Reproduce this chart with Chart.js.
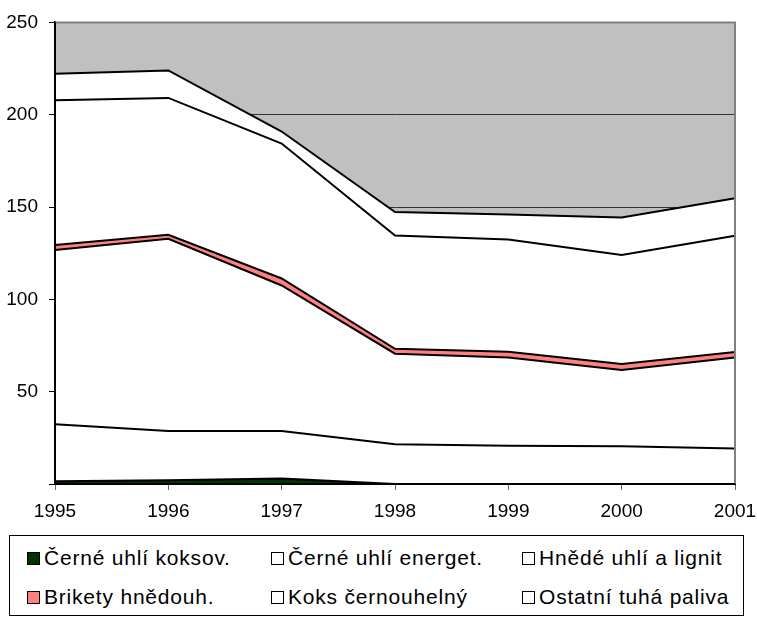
<!DOCTYPE html>
<html>
<head>
<meta charset="utf-8">
<script src="https://cdn.jsdelivr.net/npm/chart.js@4.4.0/dist/chart.umd.min.js"></script>
<style>
  body { margin: 0; background: #fff; font-family: "Liberation Sans", Arial, sans-serif; }
  #wrap { position: absolute; left: 0; top: 0; width: 757px; height: 530px; }
  #legend { position: absolute; left: 9px; top: 535px; width: 735px; height: 81px; border: 1px solid #000; box-sizing: border-box; }
  .item { position: absolute; height: 24px; line-height: 24px; font-size: 21px; color: #000; white-space: nowrap; letter-spacing: 0.8px; }
  .item i { position: absolute; left: 0; top: 6px; width: 13px; height: 13px; border: 1px solid #000; box-sizing: border-box; }
  .item span { position: absolute; left: 17px; top: 0; }
</style>
</head>
<body>
<div id="wrap"><canvas id="chart1"></canvas></div>
<div id="legend"></div>
<script>
  var years = ['1995', '1996', '1997', '1998', '1999', '2000', '2001'];

  var cerneKoksov = [1.5, 2, 3, 0, 0, 0, 0];
  var cerneEnerget = [30.9, 26.7, 25.7, 21.5, 20.7, 20.5, 19.2];
  var hnedeLignit = [94.3, 104.1, 78.8, 49.1, 47.8, 41.3, 49.3];
  var briketyHnedouh = [2.8, 2.2, 3.8, 2.6, 3.1, 3.2, 3.0];
  var koksCernouhelny = [78.4, 74.1, 73.1, 61.4, 60.8, 59, 62.9];
  var ostatniPaliva = [14.3, 14.9, 6.5, 12.7, 13.5, 20.3, 20.4];

  var seriesNames = ['Černé uhlí koksov.', 'Černé uhlí energet.', 'Hnědé uhlí a lignit',
    'Brikety hnědouh.', 'Koks černouhelný', 'Ostatní tuhá paliva'];
  var seriesData = [cerneKoksov, cerneEnerget, hnedeLignit, briketyHnedouh, koksCernouhelny, ostatniPaliva];
  var seriesColors = ['#003300', '#ffffff', '#ffffff', '#ff8080', '#ffffff', '#ffffff'];

  var datasets = seriesData.map(function (d, i) {
    return {
      label: seriesNames[i],
      data: d,
      backgroundColor: seriesColors[i],
      borderColor: '#000',
      borderWidth: 2,
      pointRadius: 0,
      tension: 0,
      fill: i === 0 ? 'origin' : '-1'
    };
  });

  // grey plot area, grey top/right frame, black axes on top
  var plotArea = {
    id: 'plotArea',
    beforeDraw: function (chart) {
      var a = chart.chartArea, c = chart.ctx;
      c.save();
      c.fillStyle = '#c0c0c0';
      c.fillRect(a.left, a.top, a.right - a.left, a.bottom - a.top);
      c.restore();
    },
    afterDatasetsDraw: function (chart) {
      var a = chart.chartArea, c = chart.ctx;
      c.save();
      c.lineWidth = 2;
      c.strokeStyle = '#808080';
      c.beginPath();
      c.moveTo(a.left, a.top);
      c.lineTo(a.right, a.top);
      c.lineTo(a.right, a.bottom);
      c.stroke();
      c.strokeStyle = '#000';
      c.beginPath();
      c.moveTo(a.left, a.top);
      c.lineTo(a.left, a.bottom);
      c.lineTo(a.right, a.bottom);
      c.stroke();
      c.restore();
    }
  };

  var ctx1 = document.getElementById('chart1').getContext('2d');
  var chart1 = new Chart(ctx1, {
    type: 'line',
    data: { labels: years, datasets: datasets },
    plugins: [plotArea],
    options: {
      responsive: true,
      maintainAspectRatio: false,
      animation: false,
      layout: { padding: { top: 19, right: 22, bottom: 0, left: 0 } },
      plugins: {
        legend: { display: false },
        tooltip: { enabled: false }
      },
      scales: {
        x: {
          offset: false,
          afterFit: function (s) { s.height = 46; s.paddingLeft = 0; s.paddingRight = 0; },
          grid: { drawOnChartArea: false, tickLength: 6, tickColor: '#666' },
          border: { color: '#000', width: 2 },
          ticks: { color: '#000', padding: 10, maxRotation: 0, autoSkip: false,
            font: { family: '"Liberation Sans", Arial', size: 19 } }
        },
        y: {
          stacked: true,
          min: 0,
          max: 250,
          afterFit: function (s) { s.width = 55; },
          grid: { color: '#333', lineWidth: 1, tickLength: 6, tickColor: '#000' },
          border: { color: '#000', width: 2 },
          ticks: { stepSize: 50, color: '#000', padding: 11,
            font: { family: '"Liberation Sans", Arial', size: 19 },
            callback: function (v) { return v === 0 ? '' : v; } }
        }
      }
    }
  });

  // legend built from the chart's own datasets
  var legendEl = document.getElementById('legend');
  var colX = [17, 261, 512];
  var rowY = [10, 49];
  chart1.data.datasets.forEach(function (ds, i) {
    var it = document.createElement('div');
    it.className = 'item';
    it.style.left = colX[i % 3] + 'px';
    it.style.top = rowY[Math.floor(i / 3)] + 'px';
    var box = document.createElement('i');
    box.style.background = ds.backgroundColor;
    var txt = document.createElement('span');
    txt.textContent = ds.label;
    it.appendChild(box);
    it.appendChild(txt);
    legendEl.appendChild(it);
  });
</script>
</body>
</html>
